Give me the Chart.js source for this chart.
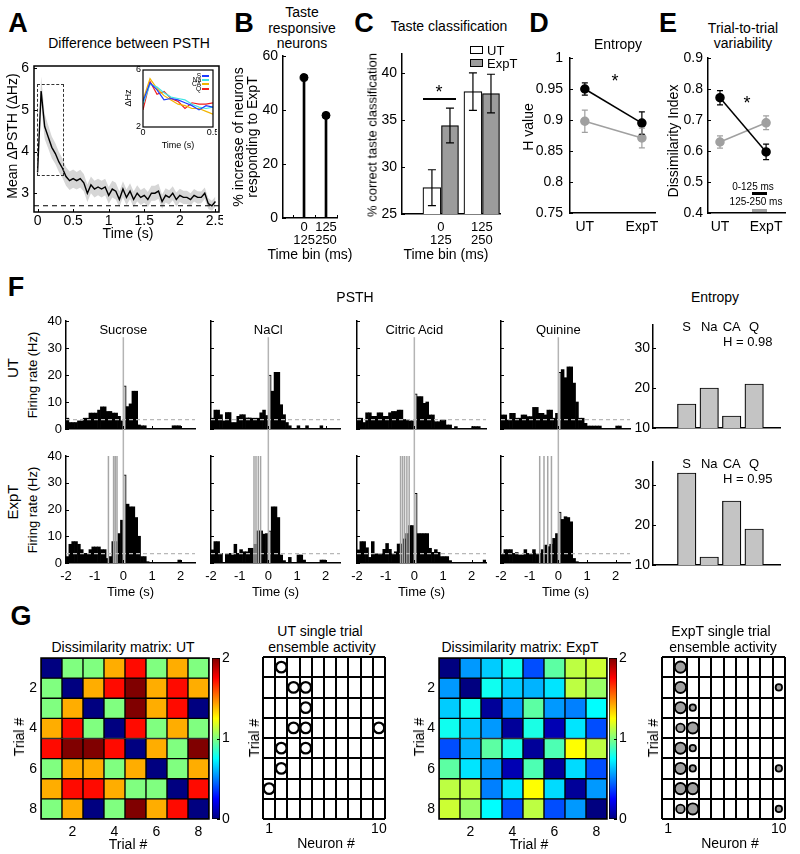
<!DOCTYPE html>
<html>
<head>
<meta charset="utf-8">
<script src="https://cdn.jsdelivr.net/npm/chart.js"></script>
<style>
html, body { margin: 0; padding: 0; background: #fff; }
#fig { position: relative; width: 800px; height: 854px; overflow: hidden;
  font-family: 'Liberation Sans', Arial, Helvetica, sans-serif; color: #000; }
#fig canvas { position: absolute; }
.t { position: absolute; white-space: nowrap; line-height: 1; }
.box { position: absolute; box-sizing: border-box; }
</style>
</head>
<body>
<div id="fig"></div>
<script>
// ---------- data ----------
// A: mean difference between PSTHs (0-2.5 s), with s.e.m.
const timeA = [0,0.05,0.1,0.15,0.2,0.25,0.3,0.35,0.4,0.45,0.5,0.55,0.6,0.65,0.7,0.75,0.8,0.85,0.9,0.95,
  1,1.05,1.1,1.15,1.2,1.25,1.3,1.35,1.4,1.45,1.5,1.55,1.6,1.65,1.7,1.75,1.8,1.85,1.9,1.95,
  2,2.05,2.1,2.15,2.2,2.25,2.3,2.35,2.4,2.45,2.5];
const meanA = [3.5,5.45,4.6,4.35,4.1,3.95,3.75,3.6,3.4,3.3,
  3.35,3.3,3.35,3.25,3.0,3.2,3.1,3.15,3.1,3.15,
  2.95,3.1,3.05,2.85,3.1,2.9,3.05,2.85,3.0,2.9,
  2.95,2.85,3.0,3.0,3.05,2.8,2.95,2.9,3.0,2.85,
  2.95,2.9,2.9,2.85,2.95,2.9,2.9,3.0,2.75,2.7,
  2.8];
const semA = [0.15,0.35,0.3,0.28,0.26,0.25,0.24,0.23,0.22,0.22,
  0.22,0.21,0.21,0.21,0.21,0.2,0.2,0.2,0.2,0.2,
  0.2,0.2,0.2,0.19,0.19,0.19,0.19,0.19,0.19,0.18,
  0.18,0.18,0.18,0.18,0.18,0.17,0.17,0.17,0.17,0.17,
  0.16,0.16,0.16,0.15,0.15,0.15,0.14,0.14,0.13,0.12,
  0.12];
const baseA = 2.7;
// A inset: per-taste difference, first 0.5 s
const insetT = [0,0.05,0.1,0.15,0.2,0.25,0.3,0.35,0.4,0.45,0.5];
const insetS  = [3.8,5.1,4.6,3.9,4.0,3.9,3.7,3.5,3.2,3.5,3.4];
const insetNa = [3.6,5.0,4.8,4.4,4.1,4.0,3.9,3.6,3.4,3.3,3.4];
const insetCA = [3.9,5.4,4.7,4.2,3.9,3.6,3.5,3.3,3.3,3.1,2.9];
const insetQ  = [3.2,5.2,4.3,4.5,4.0,3.8,3.3,3.7,3.6,3.6,3.7];
const insetNames = ['S','Na','CA','Q'];

// B, C: time bins
const binLabels = [['0','125'],['125','250']];
const binMid = [62.5, 187.5];
const pctIncrease = [52, 38];
const classUT = [27.8, 38.0], classUTerr = [1.9, 2.0];
const classExp = [34.4, 37.8], classExpErr = [1.85, 2.05];

// D, E
const condNames = ['UT','ExpT'];
const entEarly = [0.950, 0.895], entEarlyErr = [0.010, 0.018];
const entLate = [0.898, 0.871], entLateErr = [0.018, 0.016];
const dissEarly = [0.772, 0.597], dissEarlyErr = [0.023, 0.025];
const dissLate = [0.629, 0.691], dissLateErr = [0.020, 0.022];

// F: PSTH, 100 ms bins from -2 s
const binStart = [-2,-1.9,-1.8,-1.7,-1.6,-1.5,-1.4,-1.3,-1.2,-1.1,-1,-0.9,-0.8,-0.7,-0.6,-0.5,-0.4,-0.3,-0.2,-0.1,
  0,0.1,0.2,0.3,0.4,0.5,0.6,0.7,0.8,0.9,1,1.1,1.2,1.3,1.4,1.5,1.6,1.7,1.8,1.9,2,2.1,2.2,2.3,2.4];
const tastes = ['Sucrose','NaCl','Citric Acid','Quinine'];
const sucUT = [4,2.4,2.4,2.4,3,3,4,4,5.9,5.9, 5.9,7,8.2,8.2,6.5,6.5,5.9,5.9,4.7,3,
  16,8.3,9.3,14,14,1.5,1.2,1.2,0,0, 0,0,0,0,0,0,0,1.2,1.2,1.2, 0,0,0,0,0];
const nacUT = [4,7,7,5.3,3,6.1,6.1,2.4,2.4,4.7, 5.3,5.3,4.1,4.1,4,4,4,6,7,5,
  20,14,21,21,9,5.3,2.4,1.2,0,0, 1.2,0,0,1.2,0,0,0,0,1.2,0, 0,0,0,0,0];
const citUT = [4,4,2.4,6,6,4.7,4.7,6,6,4.7, 4.7,6,6.5,6.5,7,7,3.5,3.5,3,3,
  13,12,12,9.5,10,5.2,5.2,2.7,2.7,3.3, 3.3,1.5,1.5,0,0.9,0,0,0,0,0, 0.9,0.9,0.9,0,0];
const quiUT = [5.2,5.2,3.3,5.8,5.8,4,4,5.2,5.2,4.6, 4.6,8,8,5.8,5.8,5.2,7,7,4,5.8,
  21,22,19,23,23,17,10,4,4,2.1, 1.1,1.1,1.1,1.1,1.1,0,0,0,0,0, 1.1,1.1,0,0,0];
const sucExp = [2.4,7,8,8,7,5,3.6,3.6,5,6, 6,6,5,5,1.7,2.4,8,8,11,16,
  33,22,21,21,17,10,2.4,2.4,0.5,0, 0,0,0,0,0,0,0,0,0,1.1, 0,0,0,0,0];
const nacExp = [4.9,8,8,3.6,0,3.6,3.6,3,7,3.6, 5,4.2,4.2,5.5,5.5,7,12,12,10.8,11,
  12,21,21,17,3,0.9,0,2.1,0,0, 3,3,1.1,0,0,0,0,0,1.1,1.1, 0,0,0,0,0];
const citExp = [4.9,8,8,5.7,2.1,8,3.4,3.4,3.4,5.1, 7.3,5.1,3.4,4.2,7.1,7.1,9,11,14,14,
  26,11,11,11,11,5.5,4,5,4,2.4, 2.4,2.4,0.9,0,0,0,0,0,0,0, 0,0,0,0,1.1];
const quiExp = [3.6,5,5,5,3.6,3.9,3,3,5,3.6, 3.6,5,3.6,3.6,5,6.7,6.1,7,9.2,11,
  19,16.3,17.3,17,15.4,1.7,0.5,0,0,0, 0,0,0,0,0,0,0,0,0,0, 0,0,0,0,0];
const licksExp = [[-0.52,-0.34,-0.28,-0.22],[-0.5,-0.43,-0.35,-0.27],
  [-0.48,-0.41,-0.34,-0.26,-0.18],[-0.65,-0.5,-0.37,-0.24]];
const baseRate = 3.5;
// F: entropy bars
const tasteShort = ['S','Na','CA','Q'];
const entropyUT = [16, 20, 13, 21];
const entropyExpT = [33, 12, 26, 19];
const hUT = 'H = 0.98', hExpT = 'H = 0.95';

// G: dissimilarity matrices (0-2) and single-trial ensembles
const dissUT = [
  [0,1,1,1.41,1.73,1,1.41,1],
  [1,0,1.41,1.73,2,1.41,1.73,1.41],
  [1,1.41,0,1,2,1.41,1.73,0],
  [1.41,1.73,1,0,1.73,1,1.41,1],
  [1.73,2,2,1.73,0,1.41,1,2],
  [1,1.41,1.41,1,1.41,0,1,1.41],
  [1.41,1.73,1.73,1.41,1,1,0,1.73],
  [1,1.41,0,1,2,1.41,1.73,0]];
const dissExpT = [
  [0,0.55,0.65,0.78,0.4,0.93,1.12,1.15],
  [0.55,0,0.78,0.65,0.6,0.7,1.12,1.05],
  [0.65,0.78,0.05,0.55,0.93,0.55,0.5,0.75],
  [0.78,0.65,0.55,0.05,0.8,0.1,0.7,0.4],
  [0.4,0.6,0.93,0.8,0.05,0.9,1.25,1.12],
  [0.93,0.7,0.55,0.1,0.9,0.05,0.68,0.4],
  [1.12,1.12,0.5,0.7,1.25,0.68,0.05,0.55],
  [1.15,1.05,0.75,0.4,1.12,0.4,0.55,0]];
const utTrial  = [1,2,2,3,4,4,4,5,5,6,7];
const utNeuron = [2,3,4,4,3,4,10,2,4,2,1];
const expTrial  = [1,2,2,3,3,4,4,5,5,6,6,6,7,7,8,8,8];
const expNeuron = [2,2,10,2,3,2,3,2,3,2,3,10,2,3,2,3,10];
const expLevel  = [3,3,1,3,1,2,3,3,1,3,1,1,3,3,2,3,1];

// ---------- plugins ----------
const inTicks = { id: 'inTicks', afterDraw(chart, a, o) {
  if (!o.axes) return;
  const ctx = chart.ctx, len = o.len || 3;
  ctx.save(); ctx.strokeStyle = '#000'; ctx.lineWidth = 1;
  o.axes.forEach(id => {
    const s = chart.scales[id];
    s.ticks.forEach((t, i) => {
      if (t.mark === false) return;
      const p = Math.round(s.getPixelForTick(i)) + 0.5;
      ctx.beginPath();
      if (s.isHorizontal()) { ctx.moveTo(p, s.top); ctx.lineTo(p, s.top - len); }
      else if (s.position === 'right') { ctx.moveTo(s.left, p); ctx.lineTo(s.left - len, p); }
      else { ctx.moveTo(s.right, p); ctx.lineTo(s.right + len, p); }
      ctx.stroke();
    });
  });
  ctx.restore();
}};
const frame = { id: 'frame',
  beforeDatasetsDraw(chart, a, o) {
    if (!o.fill) return;
    const c = chart.chartArea;
    chart.ctx.save(); chart.ctx.fillStyle = o.fill;
    chart.ctx.fillRect(c.left, c.top, c.width, c.height); chart.ctx.restore();
  },
  afterDraw(chart, a, o) {
    if (!o.width) return;
    const c = chart.chartArea, ctx = chart.ctx;
    ctx.save(); ctx.strokeStyle = '#000'; ctx.lineWidth = o.width;
    ctx.strokeRect(c.left, c.top, c.width, c.height); ctx.restore();
  }
};
const errBars = { id: 'errBars', afterDatasetsDraw(chart) {
  const ctx = chart.ctx, ys = chart.scales.y;
  chart.data.datasets.forEach((ds, di) => {
    if (!ds.err) return;
    chart.getDatasetMeta(di).data.forEach((el, i) => {
      const v = ds.data[i].y, e = ds.err[i], cap = ds.cap || 3;
      const t = ys.getPixelForValue(v + e), b = ys.getPixelForValue(v - e);
      ctx.save(); ctx.strokeStyle = ds.errColor || '#000'; ctx.lineWidth = 1.2;
      ctx.beginPath();
      ctx.moveTo(el.x, t); ctx.lineTo(el.x, b);
      ctx.moveTo(el.x - cap, t); ctx.lineTo(el.x + cap, t);
      ctx.moveTo(el.x - cap, b); ctx.lineTo(el.x + cap, b);
      ctx.stroke(); ctx.restore();
    });
  });
}};
const zeroLine = { id: 'zeroLine', afterDatasetsDraw(chart, a, o) {
  if (o.top === undefined) return;
  const x = chart.scales.x.getPixelForValue(0);
  const y1 = o.top === 'canvas' ? 0 : chart.scales.y.getPixelForValue(o.top);
  const y2 = o.bottom === 'canvas' ? chart.height : chart.chartArea.bottom;
  const ctx = chart.ctx;
  ctx.save(); ctx.strokeStyle = '#b4b4b4'; ctx.lineWidth = 1.5;
  ctx.beginPath(); ctx.moveTo(x, y1); ctx.lineTo(x, y2); ctx.stroke(); ctx.restore();
}};

Chart.register(inTicks, frame, errBars, zeroLine);
Chart.defaults.font.family = "'Liberation Sans', Arial, Helvetica, sans-serif";
Chart.defaults.font.size = 13;
Chart.defaults.color = '#000';
Chart.defaults.animation = false;
Chart.defaults.plugins.legend.display = false;
Chart.defaults.plugins.tooltip.enabled = false;

const fig = document.getElementById('fig');

// ---------- helpers ----------
function txt(x, y, s, size, o) {
  o = o || {};
  const d = document.createElement('div');
  d.className = 't';
  d.textContent = s;
  d.style.left = x + 'px'; d.style.top = y + 'px'; d.style.fontSize = size + 'px';
  if (o.bold) d.style.fontWeight = 'bold';
  let tr = o.left ? 'translate(0,-50%)' : (o.right ? 'translate(-100%,-50%)' : 'translate(-50%,-50%)');
  if (o.rot) tr += ' rotate(-90deg)';
  d.style.transform = tr;
  fig.appendChild(d);
  return d;
}
function box(x, y, w, h, css) {
  const d = document.createElement('div');
  d.className = 'box';
  Object.assign(d.style, {left: x + 'px', top: y + 'px', width: w + 'px', height: h + 'px'}, css);
  fig.appendChild(d);
}
function linAxis(min, max, ticks, o) {
  o = o || {};
  const a = {
    type: 'linear', min: min, max: max, offset: false, reverse: !!o.reverse,
    afterBuildTicks: s => { s.ticks = ticks.map(v => typeof v === 'object' ? Object.assign({}, v) : {value: v}); },
    grid: o.grid || {display: false, drawTicks: false},
    border: {display: o.border !== false, color: '#000', width: o.bw || 1.5},
    ticks: {display: o.labels !== false, padding: o.pad === undefined ? 4 : o.pad,
      font: {size: o.size || 13, lineHeight: o.lh || 1.2},
      callback: o.cb || (v => String(v)), autoSkip: false, maxRotation: 0, minRotation: 0, color: '#000'}
  };
  if (o.pos) a.position = o.pos;
  return a;
}
// area = chart area [x, y, w, h] on the page, m = room for axes [left, top, right, bottom]
function mk(area, m, cfg) {
  const [x, y, w, h] = area, [l, t, r, b] = m;
  const W = w + l + r, H = h + t + b;
  const c = document.createElement('canvas');
  c.width = W; c.height = H;
  c.style.left = (x - l) + 'px'; c.style.top = (y - t) + 'px';
  c.style.width = W + 'px'; c.style.height = H + 'px';
  fig.appendChild(c);
  const o = cfg.options;
  o.responsive = false; o.maintainAspectRatio = false; o.animation = false; o.devicePixelRatio = 1;
  const right = o.scales.y.position === 'right';
  o.layout = {autoPadding: false, padding: {top: t, bottom: 0, left: right ? l : 0, right: right ? 0 : r}};
  const noPad = s => { s.paddingLeft = 0; s.paddingRight = 0; s.paddingTop = 0; s.paddingBottom = 0; };
  o.scales.x.afterFit = s => { s.height = b; noPad(s); };
  o.scales.y.afterFit = s => { s.width = right ? r : l; noPad(s); };
  const ch = new Chart(c, cfg);
  ch.pageLeft = x - l; ch.pageTop = y - t;
  return ch;
}
function jet(v) {
  const c = k => Math.round(255 * Math.max(0, Math.min(1, 1.5 - Math.abs(4 * v - k))));
  return 'rgb(' + c(3) + ',' + c(2) + ',' + c(1) + ')';
}
function jetGradient(chart) {
  const a = chart.chartArea;
  if (!a) return '#888';
  const g = chart.ctx.createLinearGradient(0, a.bottom, 0, a.top);
  [0, 0.125, 0.25, 0.375, 0.5, 0.625, 0.75, 0.875, 1].forEach(s => g.addColorStop(s, jet(s)));
  return g;
}
const pts = (xs, ys) => xs.map((x, i) => ({x: x, y: ys[i]}));

// ---------- panel letters ----------
[['A',18,23],['B',244,23],['C',364,23],['D',539,23],['E',668,23],['F',16,287],['G',21,616]]
  .forEach(p => txt(p[1], p[2], p[0], 27, {bold: true}));

// ---------- A ----------
txt(129, 43, 'Difference between PSTH', 14);
mk([34, 66, 185, 146], [34, 10, 4, 26], {
  type: 'line',
  data: { datasets: [
    {data: pts(timeA, meanA), borderColor: '#000', borderWidth: 1.4, pointRadius: 0},
    {data: [{x: -0.05, y: baseA}, {x: 2.55, y: baseA}], borderColor: '#000', borderWidth: 1.2, borderDash: [5, 4], pointRadius: 0},
    {data: pts(timeA, meanA.map((v, i) => v + semA[i])), borderWidth: 0, pointRadius: 0, fill: '+1', backgroundColor: '#d6d6d6'},
    {data: pts(timeA, meanA.map((v, i) => v - semA[i])), borderWidth: 0, pointRadius: 0, fill: false}
  ]},
  options: { scales: {
    x: linAxis(-0.05, 2.55, [0, 0.5, 1, 1.5, 2, 2.5], {size: 14, pad: 1, border: false}),
    y: linAxis(2.55, 6.05, [3, 4, 5, 6], {size: 14, pad: 5, border: false})
  }, plugins: {frame: {width: 1.5}, inTicks: {axes: ['x', 'y']}} }
});
box(37, 84, 27, 92, {border: '1.2px dashed #333'});
txt(12, 136, 'Mean \u0394PSTH (\u0394Hz)', 14, {rot: true});
txt(128, 233, 'Time (s)', 14);
// inset
const insetColors = ['#1e3cff', '#40e4e4', '#f2b400', '#f01e1e'];
mk([143, 70, 70, 57], [12, 6, 4, 14], {
  type: 'line',
  data: { datasets: [insetS, insetNa, insetCA, insetQ].map((d, i) => ({
    data: pts(insetT, d), borderColor: insetColors[i], borderWidth: 1.2, pointRadius: 0})) },
  options: { scales: {
    x: linAxis(0, 0.5, [0, 0.5], {size: 9, pad: 0, border: false}),
    y: linAxis(2, 6, [2, 6], {size: 9, pad: 2, border: false})
  }, plugins: {frame: {width: 1.2, fill: '#fff'}} }
});
insetNames.forEach((n, i) => {
  txt(201, 76 + 4.2 * i, n, 6.5, {right: true});
  box(202, 75 + 4.2 * i, 7, 2, {background: insetColors[i]});
});
txt(128, 98, '\u0394Hz', 9, {rot: true});
txt(178, 145, 'Time (s)', 9);

// ---------- B ----------
['Taste', 'responsive', 'neurons'].forEach((s, i) => txt(302, 12 + 15.5 * i, s, 14));
mk([283, 56, 54, 162], [40, 10, 4, 40], {
  type: 'bar',
  data: { datasets: [
    {type: 'scatter', data: pts(binMid, pctIncrease), pointRadius: 4, backgroundColor: '#000', borderColor: '#000'},
    {type: 'bar', data: pts(binMid, pctIncrease), backgroundColor: '#000', barThickness: 2, grouped: false}
  ]},
  options: { scales: {
    x: linAxis(-57, 250, [{value: 0}, {value: binMid[0], mark: false}, {value: 125}, {value: binMid[1], mark: false}, {value: 250}],
      {pad: 2.5, lh: 1, cb: v => v === binMid[0] ? binLabels[0] : (v === binMid[1] ? binLabels[1] : '')}),
    y: linAxis(0, 60, [0, 20, 40, 60], {pad: 5, size: 14})
  }, plugins: {inTicks: {axes: ['x', 'y']}} }
});
txt(238, 137, '% increase of neurons', 14, {rot: true});
txt(252, 137, 'responding to ExpT', 14, {rot: true});
txt(310, 254, 'Time bin (ms)', 14);

// ---------- C ----------
txt(449, 26, 'Taste classification', 14);
const groups = [1, 2];
mk([402, 54, 98, 160], [30, 10, 4, 40], {
  type: 'bar',
  data: { datasets: [
    {data: pts(groups.map(g => g - 0.22), classUT), base: 25, backgroundColor: '#fff', borderColor: '#000', borderWidth: 1.2,
      barThickness: 18, grouped: false, err: classUTerr, cap: 4},
    {data: pts(groups.map(g => g + 0.22), classExp), base: 25, backgroundColor: '#9c9c9c', borderColor: '#000', borderWidth: 1.2,
      barThickness: 17, grouped: false, err: classExpErr, cap: 4}
  ]},
  options: { scales: {
    x: linAxis(0.05, 2.44, [{value: 1, mark: false}, {value: 2, mark: false}], {pad: 6.5, lh: 1, cb: (v, i) => binLabels[i]}),
    y: linAxis(25, 42, [25, 30, 35, 40], {pad: 5, size: 14})
  }, plugins: {inTicks: {axes: ['y']}} }
});
box(470, 46, 13, 8, {border: '1.2px solid #000', background: '#fff'});
txt(487, 50, 'UT', 13, {left: true});
box(470, 59, 13, 8, {border: '1.2px solid #000', background: '#9c9c9c'});
txt(487, 63, 'ExpT', 13, {left: true});
box(423, 98, 33, 2, {background: '#000'});
txt(439, 92, '*', 18);
txt(372, 135, '% correct taste classification', 13, {rot: true});
txt(446, 254, 'Time bin (ms)', 14);

// ---------- D ----------
txt(618, 44, 'Entropy', 14);
mk([570, 58, 85, 155], [40, 10, 4, 30], {
  type: 'line',
  data: { datasets: [
    {data: pts(groups, entEarly), borderColor: '#000', backgroundColor: '#000', pointRadius: 4, borderWidth: 1.5, err: entEarlyErr, cap: 3},
    {data: pts(groups, entLate), borderColor: '#a0a0a0', backgroundColor: '#a0a0a0', pointRadius: 4, borderWidth: 1.5, err: entLateErr, errColor: '#a0a0a0', cap: 3}
  ]},
  options: { scales: {
    x: linAxis(0.74, 2.23, [{value: 1, mark: false}, {value: 2, mark: false}], {pad: 6, size: 14, cb: (v, i) => condNames[i]}),
    y: linAxis(0.75, 1.0, [0.75, 0.8, 0.85, 0.9, 0.95, 1], {pad: 7, size: 14})
  }, plugins: {inTicks: {axes: ['y']}} }
});
txt(528, 127, 'H value', 14, {rot: true});
txt(615, 81, '*', 18);

// ---------- E ----------
txt(743, 28, 'Trial-to-trial', 14);
txt(743, 43, 'variability', 14);
mk([708, 58, 77, 155], [40, 10, 4, 30], {
  type: 'line',
  data: { datasets: [
    {data: pts(groups, dissEarly), borderColor: '#000', backgroundColor: '#000', pointRadius: 4, borderWidth: 1.5, err: dissEarlyErr, cap: 3},
    {data: pts(groups, dissLate), borderColor: '#a0a0a0', backgroundColor: '#a0a0a0', pointRadius: 4, borderWidth: 1.5, err: dissLateErr, errColor: '#a0a0a0', cap: 3}
  ]},
  options: { scales: {
    x: linAxis(0.74, 2.41, [{value: 1, mark: false}, {value: 2, mark: false}], {pad: 6, size: 14, cb: (v, i) => condNames[i]}),
    y: linAxis(0.4, 0.9, [0.4, 0.5, 0.6, 0.7, 0.8, 0.9], {pad: 5, size: 14})
  }, plugins: {inTicks: {axes: ['y']}} }
});
txt(673, 141, 'Dissimilarity Index', 14, {rot: true});
txt(747, 103, '*', 18);
txt(753, 187, '0-125 ms', 10);
box(752, 192, 15, 3, {background: '#000'});
txt(756, 202, '125-250 ms', 10);
box(752, 209, 15, 3, {background: '#a0a0a0'});

// ---------- F ----------
txt(355, 297, 'PSTH', 14);
txt(715, 297, 'Entropy', 14);
txt(12, 368, 'UT', 15, {rot: true});
txt(12, 502, 'ExpT', 15, {rot: true});
txt(32, 375, 'Firing rate (Hz)', 13, {rot: true});
txt(32, 510, 'Firing rate (Hz)', 13, {rot: true});
const psthX = [66, 211, 357, 501];
function psth(col, row, counts, licks) {
  const x0 = psthX[col];
  const area = row === 0 ? [x0, 321, 129, 108] : [x0, 456, 129, 107];
  const m = row === 0 ? [32, 10, 4, 13] : [32, 14, 4, 22];
  const datasets = [
    {type: 'line', data: [{x: -2, y: baseRate}, {x: 2.5, y: baseRate}], borderColor: '#b8b8b8', borderWidth: 1.2, borderDash: [4, 3], pointRadius: 0}
  ];
  if (licks) datasets.push({type: 'line', data: licks.flatMap(t => [{x: t, y: 0}, {x: t, y: 40}, {x: t, y: null}]),
    borderColor: '#a6a6a6', borderWidth: 1.5, pointRadius: 0, spanGaps: false});
  datasets.push({type: 'bar', data: pts(binStart.map(t => t + 0.05), counts),
    backgroundColor: binStart.map(t => t === 0 ? '#c8c8c8' : '#000'), borderColor: '#000',
    borderWidth: binStart.map(t => t === 0 ? 1 : 0), barPercentage: 1, categoryPercentage: 1, grouped: false});
  return mk(area, m, { type: 'bar', data: {datasets: datasets}, options: {
    scales: {
      x: linAxis(-2, 2.5, [-2, -1, 0, 1, 2], {labels: row === 1, pad: 6, size: 13}),
      y: linAxis(0, 40, [0, 10, 20, 30, 40], {labels: col === 0, pad: 4, size: 13})
    },
    plugins: {inTicks: {axes: ['x', 'y']}, zeroLine: {top: row === 0 ? 34 : 'canvas', bottom: row === 0 ? 'canvas' : 'area'}}
  }});
}
[sucUT, nacUT, citUT, quiUT].forEach((d, i) => psth(i, 0, d, null));
[sucExp, nacExp, citExp, quiExp].forEach((d, i) => psth(i, 1, d, licksExp[i]));
tastes.forEach((n, i) => {
  txt(psthX[i] + 57.3, 329, n, 13);
  txt(psthX[i] + 64.5, 591, 'Time (s)', 13);
});
function entropyChart(row, vals, hText) {
  const area = row === 0 ? [653, 325, 127, 103] : [653, 462, 127, 103];
  const ch = mk(area, [26, 10, 4, 10], { type: 'bar',
    data: { datasets: [{data: pts(vals.map((v, i) => i + 1), vals), base: 10, backgroundColor: '#c4c4c4',
      borderColor: '#000', borderWidth: 1.2, barThickness: 18.5}] },
    options: { scales: {
      x: linAxis(-0.5, 5.15, [], {labels: false}),
      y: linAxis(10, 35.75, [10, 20, 30], {pad: 3, size: 14})
    }, plugins: {inTicks: {axes: ['y']}} }
  });
  tasteShort.forEach((s, i) => txt(ch.pageLeft + ch.scales.x.getPixelForValue(i + 1), area[1] + 1, s, 13));
  txt(723, area[1] + 16, hText, 13, {left: true});
}
entropyChart(0, entropyUT, hUT);
entropyChart(1, entropyExpT, hExpT);

// ---------- G ----------
function matrix(area, M) {
  const datasets = M.map((row, r) => ({
    data: row.map((v, c) => ({x: c + 1, y: [r + 0.5, r + 1.5]})),
    backgroundColor: row.map(v => jet(v / 2)),
    borderColor: '#000', borderWidth: 1, borderSkipped: false,
    barPercentage: 1, categoryPercentage: 1, grouped: false
  }));
  return mk(area, [26, 4, 2, 24], { type: 'bar', data: {datasets: datasets}, options: {
    scales: {
      x: linAxis(0.5, 8.5, [2, 4, 6, 8], {border: false, pad: 5, size: 14}),
      y: linAxis(0.5, 8.5, [2, 4, 6, 8], {border: false, reverse: true, pad: 4, size: 14})
    }, plugins: {frame: {width: 1.5}} }});
}
function colorbar(area) {
  const y = linAxis(0, 2, [0, 1, 2], {pad: 2, size: 14, border: false, pos: 'right'});
  return mk(area, [0, 10, 14, 10], { type: 'bar',
    data: { datasets: [{data: [{x: 1, y: [0, 2]}], backgroundColor: c => jetGradient(c.chart),
      borderColor: '#000', borderWidth: 1, borderSkipped: false, barPercentage: 1, categoryPercentage: 1}] },
    options: { scales: { x: linAxis(0.5, 1.5, [], {labels: false, border: false}), y: y },
      plugins: {inTicks: {axes: ['y']}} }
  });
}
const halfCols = [0.5,1,1.5,2.5,3.5,4.5,5.5,6.5,7.5,8.5,9.5,10,10.5];
const halfRows = [0.5,1.5,2.5,3.5,4.5,5.5,6.5,7.5,8.5];
const cellGrid = {display: true, drawTicks: false,
  color: c => Number.isInteger(c.tick.value) ? 'rgba(0,0,0,0)' : '#000',
  lineWidth: c => Number.isInteger(c.tick.value) ? 0 : 2};
function ensemble(area, trials, neurons, radius, fill, bw) {
  return mk(area, [2, 2, 2, 18], { type: 'bubble',
    data: { datasets: [{data: trials.map((t, i) => ({x: neurons[i], y: t, r: radius(i)})),
      backgroundColor: fill, borderColor: '#000', borderWidth: bw}] },
    options: { scales: {
      x: linAxis(0.5, 10.5, halfCols, {grid: cellGrid, border: false, pad: 2, size: 14,
        cb: v => (v === 1 || v === 10) ? String(v) : ''}),
      y: linAxis(0.5, 8.5, halfRows, {grid: cellGrid, border: false, reverse: true, labels: false})
    }}
  });
}
txt(123, 647, 'Dissimilarity matrix: UT', 14);
matrix([41, 658, 168, 161], dissUT);
colorbar([212, 658, 8, 161]);
txt(19, 737, 'Trial #', 14, {rot: true});
txt(128, 844, 'Trial #', 14);

txt(320, 631, 'UT single trial', 14);
txt(322, 647, 'ensemble activity', 14);
ensemble([263, 657, 122, 162], utTrial, utNeuron, i => 5.3, '#fff', 2.2);
txt(254, 738, 'Trial #', 14, {rot: true});
txt(326, 843, 'Neuron #', 14);

txt(520, 647, 'Dissimilarity matrix: ExpT', 14);
matrix([439, 658, 168, 161], dissExpT);
colorbar([609, 658, 8, 161]);
txt(419, 737, 'Trial #', 14, {rot: true});
txt(529, 844, 'Trial #', 14);

txt(721, 631, 'ExpT single trial', 14);
txt(723, 647, 'ensemble activity', 14);
const levelRadius = {1: 3.2, 2: 4.3, 3: 5.6};
ensemble([662, 657, 123, 162], expTrial, expNeuron, i => levelRadius[expLevel[i]], '#a0a0a0', 1.8);
txt(653, 738, 'Trial #', 14, {rot: true});
txt(730, 843, 'Neuron #', 14);
</script>
</body>
</html>
